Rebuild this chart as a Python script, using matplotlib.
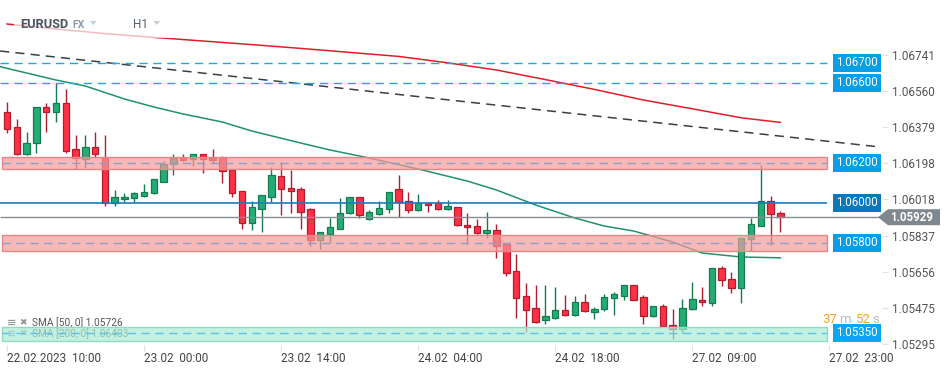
import matplotlib
matplotlib.use("Agg")
import matplotlib.pyplot as plt
import matplotlib.transforms as mtransforms
from matplotlib.patches import Rectangle, Polygon

plt.rcParams["font.family"] = ["Roboto", "DejaVu Sans"]

# hourly EURUSD bars, bar 0 = 22.02.2023 10:00
opens = [1.06454, 1.06379, 1.06244, 1.06299, 1.06479, 1.06457, 1.06499, 1.06269, 1.06219, 1.06279,
         1.06227, 1.06002, 1.06019, 1.06024, 1.06037, 1.06049, 1.06107, 1.06194, 1.06225, 1.06219,
         1.06244, 1.06225, 1.06225, 1.06165, 1.06059, 1.05899, 1.05972, 1.06032, 1.06134, 1.06074,
         1.06069, 1.05969, 1.05814, 1.05844, 1.05872, 1.05949, 1.06029, 1.05919, 1.05944, 1.05969,
         1.06069, 1.06009, 1.05964, 1.05999, 1.05999, 1.05969, 1.05979, 1.05889, 1.05884, 1.05849,
         1.05864, 1.05795, 1.05659, 1.05535, 1.05474, 1.05414, 1.05425, 1.05464, 1.05442, 1.05504,
         1.05454, 1.05469, 1.05524, 1.05534, 1.05589, 1.05529, 1.05434, 1.05484, 1.05389, 1.05369,
         1.05469, 1.05514, 1.05499, 1.05674, 1.05619, 1.05574, 1.05822, 1.05887, 1.06009, 1.05949]
highs = [1.06505, 1.06419, 1.06355, 1.06482, 1.06499, 1.06599, 1.06569, 1.06340, 1.06340, 1.06355,
         1.06340, 1.06065, 1.06049, 1.06055, 1.06095, 1.06121, 1.06210, 1.06245, 1.06245, 1.06246,
         1.06246, 1.06270, 1.06234, 1.06167, 1.06061, 1.06010, 1.06041, 1.06182, 1.06205, 1.06165,
         1.06079, 1.05974, 1.05856, 1.05925, 1.06024, 1.06031, 1.06031, 1.05964, 1.06010, 1.06056,
         1.06140, 1.06054, 1.06044, 1.06001, 1.06014, 1.06014, 1.05981, 1.05949, 1.05919, 1.05954,
         1.05894, 1.05797, 1.05745, 1.05602, 1.05590, 1.05590, 1.05580, 1.05540, 1.05535, 1.05545,
         1.05479, 1.05545, 1.05554, 1.05591, 1.05591, 1.05540, 1.05486, 1.05494, 1.05470, 1.05520,
         1.05605, 1.05579, 1.05676, 1.05685, 1.05654, 1.05826, 1.05925, 1.06190, 1.06034, 1.05959]
lows = [1.06352, 1.06240, 1.06240, 1.06252, 1.06357, 1.06407, 1.06249, 1.06172, 1.06177, 1.06224,
        1.05987, 1.05987, 1.06007, 1.06007, 1.06032, 1.06047, 1.06105, 1.06140, 1.06212, 1.06185,
        1.06152, 1.06199, 1.06102, 1.06029, 1.05872, 1.05865, 1.05857, 1.06007, 1.05942, 1.05949,
        1.05872, 1.05787, 1.05769, 1.05802, 1.05869, 1.05947, 1.05924, 1.05914, 1.05942, 1.05949,
        1.05932, 1.05949, 1.05962, 1.05957, 1.05964, 1.05964, 1.05887, 1.05794, 1.05844, 1.05824,
        1.05724, 1.05637, 1.05427, 1.05357, 1.05399, 1.05397, 1.05422, 1.05434, 1.05437, 1.05455,
        1.05422, 1.05462, 1.05442, 1.05517, 1.05515, 1.05397, 1.05429, 1.05382, 1.05322, 1.05349,
        1.05467, 1.05484, 1.05484, 1.05584, 1.05549, 1.05499, 1.05762, 1.05885, 1.05792, 1.05857]
closes = [1.06369, 1.06244, 1.06299, 1.06479, 1.06457, 1.06499, 1.06262, 1.06224, 1.06279, 1.06244,
          1.06002, 1.06029, 1.06030, 1.06049, 1.06054, 1.06119, 1.06194, 1.06227, 1.06217, 1.06244,
          1.06219, 1.06214, 1.06159, 1.06052, 1.05899, 1.05979, 1.06039, 1.06139, 1.06069, 1.06062,
          1.05957, 1.05815, 1.05854, 1.05879, 1.05949, 1.06029, 1.05939, 1.05954, 1.05974, 1.06054,
          1.06004, 1.05964, 1.05999, 1.05989, 1.05969, 1.05984, 1.05889, 1.05879, 1.05849, 1.05864,
          1.05784, 1.05652, 1.05527, 1.05467, 1.05407, 1.05434, 1.05464, 1.05442, 1.05504, 1.05459,
          1.05469, 1.05529, 1.05544, 1.05589, 1.05517, 1.05434, 1.05484, 1.05384, 1.05369, 1.05474,
          1.05519, 1.05504, 1.05674, 1.05614, 1.05574, 1.05824, 1.05894, 1.06009, 1.05944, 1.05929]

# moving averages (bar index, value)
sma50_idx = [-1, 5, 8, 12, 15, 18, 22, 25, 30, 33, 37, 42, 47, 50, 54, 58, 61, 64, 68, 71, 75, 79]
sma50_val = [1.06685, 1.06615, 1.06585, 1.06520, 1.06480, 1.06445, 1.06405, 1.06360, 1.06300, 1.06265,
             1.06225, 1.06170, 1.06110, 1.06065, 1.05990, 1.05925, 1.05885, 1.05860, 1.05805, 1.05750,
             1.05730, 1.05726]
sma200_idx = [0, 5, 10, 15, 20, 25, 30, 35, 40, 45, 50, 55, 60, 65, 70, 75, 79]
sma200_val = [1.06895, 1.06870, 1.06847, 1.06828, 1.06810, 1.06792, 1.06773, 1.06753, 1.06733, 1.06701,
              1.06665, 1.06617, 1.06568, 1.06515, 1.06471, 1.06426, 1.06403]

# dashed trend line, two anchor points (bar index, price)
trend_idx = [-0.7, 89.2]
trend_val = [1.06760, 1.06280]

# horizontal levels and zones
dashed_levels = [1.06700, 1.06600]
zone_levels = [1.06200, 1.05800]
zone_low = [1.06168, 1.05759]
zone_high = [1.06228, 1.05839]
solid_level = 1.06000
support_level = 1.05350
support_low, support_high = 1.05312, 1.05379
last_price = 1.05929

price_ticks = [1.06741, 1.06560, 1.06379, 1.06198, 1.06018, 1.05837, 1.05656, 1.05475, 1.05295]
time_tick_idx = [0, 14, 28, 42, 56, 70, 84]
time_tick_labels = ["22.02.2023  10:00", "23.02  00:00", "23.02  14:00", "24.02  04:00",
                    "24.02  18:00", "27.02  09:00", "27.02  23:00"]

W, H = 949, 370
fig = plt.figure(figsize=(W / 100, H / 100), dpi=100)
ax = fig.add_axes([0, 25 / H, 882 / W, 345 / H])
ax.set_xlim(-0.715, 89.38)
ax.set_ylim(1.05290, 1.07015)
for s in ax.spines.values():
    s.set_visible(False)

# pixel coords measured from the top-left corner of the figure
pix = mtransforms.Affine2D().scale(1 / W, -1 / H).translate(0, 1) + fig.transFigure
blend = mtransforms.blended_transform_factory(pix, ax.transData)

# candles
up_fill, up_edge = "#23ad74", "#167a50"
dn_fill, dn_edge = "#ff3045", "#b01e2e"
idx = list(range(len(opens)))
for i in idx:
    o, hi, lo, c = opens[i], highs[i], lows[i], closes[i]
    up = c >= o
    edge = up_edge if up else dn_edge
    ax.vlines(i, lo, hi, color=edge, lw=1.0, zorder=2)
    ax.bar(i, max(abs(c - o), 0.00003), bottom=min(o, c), width=0.66,
           color=up_fill if up else dn_fill, edgecolor=edge, linewidth=0.9, zorder=3)

# moving averages and trend
ax.plot(sma50_idx, sma50_val, color="#22916a", lw=1.1, zorder=2.5)
ax.plot(sma200_idx, sma200_val, color="#de1f2a", lw=1.1, zorder=2.5)
ax.plot(trend_idx, trend_val, color="#3a3f44", lw=1.1, dashes=(6, 4), zorder=2.5, clip_on=False)

zone_x0, zone_x1 = -0.5, 83.8
for lv, lo, hi in zip(zone_levels, zone_low, zone_high):
    ax.add_patch(Rectangle((zone_x0, lo), zone_x1 - zone_x0, hi - lo, facecolor="#f59b9b",
                           alpha=0.7, edgecolor="none", zorder=4))
    ax.add_patch(Rectangle((zone_x0, lo), zone_x1 - zone_x0, hi - lo, facecolor="none",
                           edgecolor="#e88585", lw=1.0, zorder=4.1))
    ax.hlines(lv, zone_x0, zone_x1, color="#8fa0c6", lw=1.0, linestyles=(0, (6, 4)), zorder=5)

ax.add_patch(Rectangle((zone_x0, support_low), zone_x1 - zone_x0, support_high - support_low,
                       facecolor="#acead3", alpha=0.7, edgecolor="none", zorder=4))
ax.add_patch(Rectangle((zone_x0, support_low), zone_x1 - zone_x0, support_high - support_low,
                       facecolor="none", edgecolor="#8fdcc0", lw=1.0, zorder=4.1))
ax.hlines(support_level, zone_x0, zone_x1, color="#5cc3e6", lw=1.0, linestyles=(0, (6, 4)), zorder=5)

for lv in dashed_levels:
    ax.hlines(lv, -0.715, zone_x1, color="#1fa5ea", lw=1.0, linestyles=(0, (6, 4)), zorder=5)
ax.hlines(solid_level, -0.715, zone_x1, color="#1a7cc0", lw=1.2, zorder=5)
ax.hlines(last_price, -0.715, 89.2, color="#868e94", lw=1.0, zorder=5)

# level tags on the right
tags = [(1.06700, "#049fe6"), (1.06600, "#049fe6"), (1.06200, "#049fe6"),
        (1.06000, "#0a78b9"), (1.05800, "#049fe6"), (1.05350, "#0aa6ee")]
for lv, fc in tags:
    ax.text(836, lv, f"{lv:.5f}", transform=blend, ha="left", va="center", color="white",
            fontsize=8.3, zorder=7,
            bbox=dict(boxstyle="square,pad=0.25", fc=fc, ec="none"))

half = 0.0004
ax.add_patch(Polygon([(878, last_price), (888, last_price + half), (940, last_price + half),
                      (940, last_price - half), (888, last_price - half)],
                     closed=True, transform=blend, facecolor="#7f888e", edgecolor="none",
                     clip_on=False, zorder=7))
ax.text(890, last_price, f"{last_price:.5f}", transform=blend, ha="left", va="center",
        color="white", fontsize=8.3, fontweight="bold", zorder=8)

# axes ticks
ax.yaxis.tick_right()
ax.set_yticks(price_ticks)
ax.set_yticklabels([f"{v:.5f}" for v in price_ticks])
ax.tick_params(axis="y", length=4, color="#e2e2e2", pad=3, labelsize=8.5, labelcolor="#555555")
ax.set_xticks(time_tick_idx)
ax.set_xticklabels(time_tick_labels)
for lbl in ax.get_xticklabels():
    lbl.set_ha("left")
ax.tick_params(axis="x", length=4, color="#e2e2e2", pad=1, labelsize=8.5, labelcolor="#444444")

# countdown, sitting just above the 1.05350 tag
for x, s, col in [(822, "37", "#f5a623"), (839, "m", "#b9bdc1"), (856, "52", "#f5a623"),
                  (872.5, "s", "#b9bdc1")]:
    ax.text(x, 326, s, transform=pix, ha="left", va="bottom", fontsize=9.5, color=col, zorder=6)

# indicator legend (second row sits under the support zone)
for y, s in [(323, "SMA [50, 0] 1.05726"), (334, "SMA [200, 0] 1.06403")]:
    ax.text(7, y, "≡", transform=pix, ha="left", va="center", fontsize=8, color="#8e959b",
            family="DejaVu Sans", fontweight="bold", zorder=3.5)
    ax.text(19, y, "✖", transform=pix, ha="left", va="center", fontsize=6.5, color="#8e959b",
            family="DejaVu Sans", zorder=3.5)
    ax.text(32, y, s, transform=pix, ha="left", va="center", fontsize=7.3, color="#555555", zorder=3.5)

# header, on a translucent white plate
fig.add_artist(Rectangle((14, 14), 160, 24, transform=pix, facecolor="white", alpha=0.7,
                         edgecolor="none", zorder=5))
fig.text(20.5, 24, "EURUSD", transform=pix, ha="left", va="center", fontsize=9.2,
         fontweight="bold", color="#4a5561", zorder=6)
fig.text(72.5, 24.5, "FX", transform=pix, ha="left", va="center", fontsize=7.5,
         fontweight="bold", color="#8c9ba8", zorder=6)
fig.text(133, 24, "H1", transform=pix, ha="left", va="center", fontsize=8.5,
         color="#555f69", zorder=6)
for x0 in (90, 153.5):
    fig.add_artist(Polygon([(x0, 21), (x0 + 6.5, 21), (x0 + 3.25, 25)], closed=True,
                           transform=pix, facecolor="#c5cbd0", edgecolor="none", zorder=6))

fig.savefig("out.png", dpi=100)
